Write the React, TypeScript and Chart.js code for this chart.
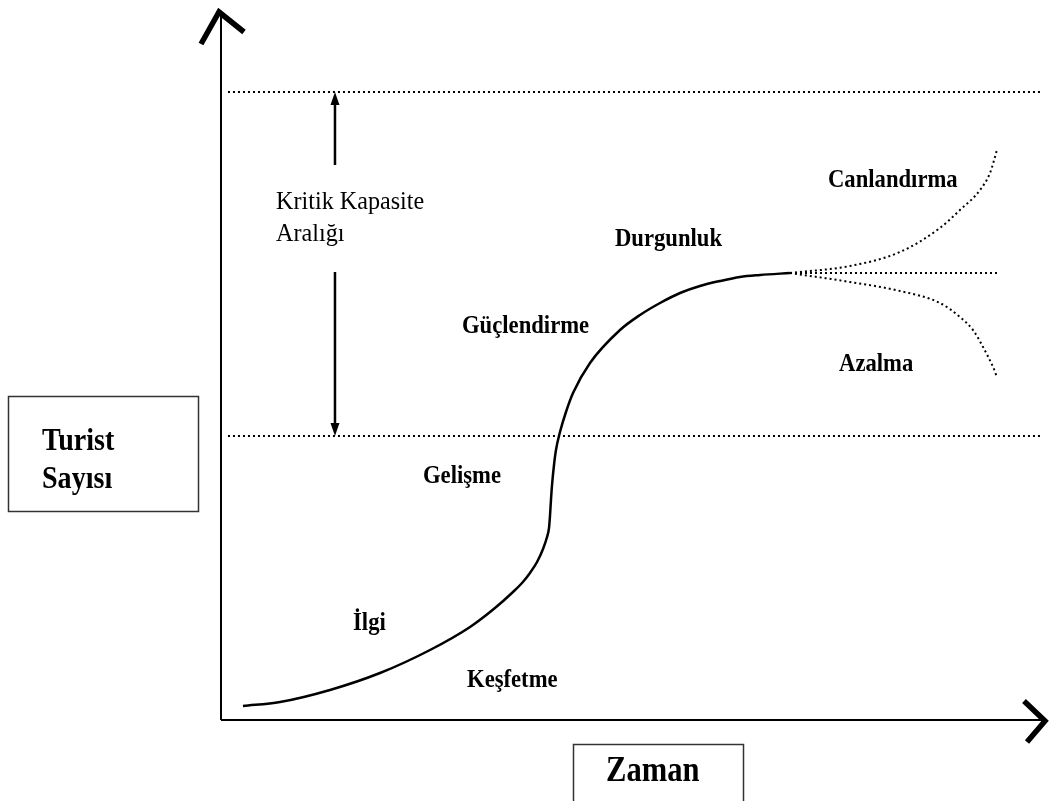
import { useEffect, useRef } from "react";
import { Chart, registerables } from "chart.js";

Chart.register(...registerables);

// Main life-cycle curve (time vs. number of tourists, arbitrary units 0-100)
const mainTime = [2.68, 7.2, 13.29, 19.39, 25.49, 30.37, 33.41, 35.61, 36.71, 37.68, 38.54, 39.27, 39.76, 40.0, 40.12, 40.24, 40.37, 40.61, 40.85, 41.34, 42.07, 42.93, 45.0, 48.66, 51.1, 53.54, 55.98, 58.41, 60.85, 63.29, 65.73, 69.39];
const mainTourists = [2.0, 2.57, 4.29, 6.71, 10.0, 13.29, 16.0, 18.29, 19.57, 21.0, 22.57, 24.43, 26.14, 27.43, 29.14, 31.43, 33.57, 36.43, 38.57, 41.14, 44.0, 46.71, 51.0, 55.71, 57.86, 59.57, 61.0, 62.0, 62.71, 63.29, 63.57, 63.86];

// Branches after stagnation
const reviveTime = [69.39, 76.71, 82.8, 87.68, 90.12, 92.56, 93.78, 94.63];
const reviveTourists = [63.86, 64.86, 66.86, 70.29, 72.86, 75.71, 78.14, 81.43];
const stableTime = [69.39, 94.63];
const stableTourists = [63.86, 63.86];
const declineTime = [69.39, 76.71, 82.8, 87.68, 90.12, 91.71, 92.93, 94.15, 94.63];
const declineTourists = [63.86, 62.57, 61.29, 59.57, 57.57, 55.71, 53.29, 50.43, 49.0];

// Critical capacity range
const capacityUpper = 89.71;
const capacityLower = 40.57;
const capacityLineStart = 0.85;
const capacityLineEnd = 100;
const rangeArrowTime = 13.9;
const rangeArrowUpperEnd = 79.29;
const rangeArrowLowerStart = 64.0;

// Stage labels
const stageLabels = ["Kritik Kapasite", "Aralığı", "Durgunluk", "Canlandırma", "Güçlendirme", "Azalma", "Gelişme", "İlgi", "Keşfetme"];
const stageTime = [6.71, 6.71, 48.05, 74.02, 29.39, 75.37, 24.63, 16.1, 30.0];
const stageTourists = [73.0, 68.43, 67.71, 76.14, 55.29, 49.86, 33.86, 12.86, 4.71];
const stageBold = [false, false, true, true, true, true, true, true, true];

const yTitleLines = ["Turist", "Sayısı"];
const xTitle = "Zaman";

const toPoints = (xs: number[], ys: number[]) => xs.map((x, i) => ({ x, y: ys[i] }));

const decorPlugin = {
  id: "decor",
  afterDatasetsDraw(chart: any) {
    const { ctx, chartArea, scales } = chart;
    const xs = scales.x;
    const ys = scales.y;
    const left = chartArea.left;
    const bottom = chartArea.bottom;
    ctx.save();
    ctx.strokeStyle = "#000";
    ctx.fillStyle = "#000";
    ctx.lineCap = "butt";
    // axes
    ctx.lineWidth = 2;
    ctx.beginPath();
    ctx.moveTo(left, bottom);
    ctx.lineTo(left, 12);
    ctx.moveTo(left, bottom);
    ctx.lineTo(1045, bottom);
    ctx.stroke();
    // arrow heads (chevrons)
    ctx.lineWidth = 5.5;
    ctx.lineJoin = "miter";
    ctx.beginPath();
    ctx.moveTo(201, 44);
    ctx.lineTo(left - 2, 12);
    ctx.lineTo(244, 32);
    ctx.stroke();
    ctx.beginPath();
    ctx.moveTo(1024, 701);
    ctx.lineTo(1045, bottom + 1);
    ctx.lineTo(1027, 742);
    ctx.stroke();

    // range arrows
    const ax = xs.getPixelForValue(rangeArrowTime);
    const yTop = ys.getPixelForValue(capacityUpper);
    const yTopEnd = ys.getPixelForValue(rangeArrowUpperEnd);
    const yBotStart = ys.getPixelForValue(rangeArrowLowerStart);
    const yBot = ys.getPixelForValue(capacityLower);
    ctx.lineWidth = 2.5;
    ctx.beginPath();
    ctx.moveTo(ax, yTop + 6);
    ctx.lineTo(ax, yTopEnd);
    ctx.moveTo(ax, yBotStart);
    ctx.lineTo(ax, yBot - 6);
    ctx.stroke();
    ctx.beginPath();
    ctx.moveTo(ax, yTop);
    ctx.lineTo(ax - 4.5, yTop + 13);
    ctx.lineTo(ax + 4.5, yTop + 13);
    ctx.closePath();
    ctx.fill();
    ctx.beginPath();
    ctx.moveTo(ax, yBot);
    ctx.lineTo(ax - 4.5, yBot - 13);
    ctx.lineTo(ax + 4.5, yBot - 13);
    ctx.closePath();
    ctx.fill();

    // stage labels
    ctx.textAlign = "left";
    ctx.textBaseline = "alphabetic";
    stageLabels.forEach((t, i) => {
      const px = xs.getPixelForValue(stageTime[i]);
      const py = ys.getPixelForValue(stageTourists[i]);
      ctx.save();
      ctx.translate(px, py);
      ctx.scale(stageBold[i] ? 1.03 : 1.05, 1.12);
      ctx.font = stageBold[i] ? "bold 22px 'Liberation Serif'" : "23px 'Liberation Serif'";
      ctx.fillText(t, 0, 0);
      ctx.restore();
    });

    // y title box
    ctx.lineWidth = 1.5;
    ctx.strokeStyle = "#333";
    ctx.strokeRect(8.5, 396.5, 190, 115);
    ctx.font = "bold 27px 'Liberation Serif'";
    yTitleLines.forEach((t, i) => {
      ctx.save();
      ctx.translate(42, 450 + i * 38);
      ctx.scale(1.04, 1.2);
      ctx.fillText(t, 0, 0);
      ctx.restore();
    });
    // x title box
    ctx.beginPath();
    ctx.moveTo(573.5, 810);
    ctx.lineTo(573.5, 744.5);
    ctx.lineTo(743.5, 744.5);
    ctx.lineTo(743.5, 810);
    ctx.stroke();
    ctx.font = "bold 30px 'Liberation Serif'";
    ctx.save();
    ctx.translate(606, 781);
    ctx.scale(1.02, 1.18);
    ctx.fillText(xTitle, 0, 0);
    ctx.restore();
    ctx.restore();
  },
};

export default function App() {
  const ref = useRef<HTMLCanvasElement>(null);
  useEffect(() => {
    if (!ref.current) return;
    const dotted = { borderColor: "#000", borderWidth: 2, borderDash: [2, 3], pointRadius: 0, showLine: true, clip: false, tension: 0 };
    const chart = new Chart(ref.current, {
      type: "scatter",
      data: {
        datasets: [
          { ...dotted, data: toPoints([capacityLineStart, capacityLineEnd], [capacityUpper, capacityUpper]) },
          { ...dotted, data: toPoints([capacityLineStart, capacityLineEnd], [capacityLower, capacityLower]) },
          { ...dotted, data: toPoints(reviveTime, reviveTourists), cubicInterpolationMode: "monotone" },
          { ...dotted, data: toPoints(stableTime, stableTourists) },
          { ...dotted, data: toPoints(declineTime, declineTourists), cubicInterpolationMode: "monotone" },
          {
            data: toPoints(mainTime, mainTourists),
            showLine: true,
            borderColor: "#000",
            borderWidth: 2.5,
            pointRadius: 0,
            cubicInterpolationMode: "monotone",
            clip: false,
          },
        ] as any,
      },
      options: {
        animation: false,
        responsive: false,
        layout: { padding: { left: 221, right: 10, top: 20, bottom: 81 } },
        plugins: { legend: { display: false }, tooltip: { enabled: false } },
        scales: {
          x: { type: "linear", min: 0, max: 100, display: false },
          y: { type: "linear", min: 0, max: 100, display: false },
        },
      },
      plugins: [decorPlugin],
    });
    return () => chart.destroy();
  }, []);
  return (
    <div style={{ position: "fixed", left: 0, top: 0, width: 1051, height: 801, background: "#fff" }}>
      <canvas ref={ref} width={1051} height={801} style={{ display: "block" }} />
    </div>
  );
}
